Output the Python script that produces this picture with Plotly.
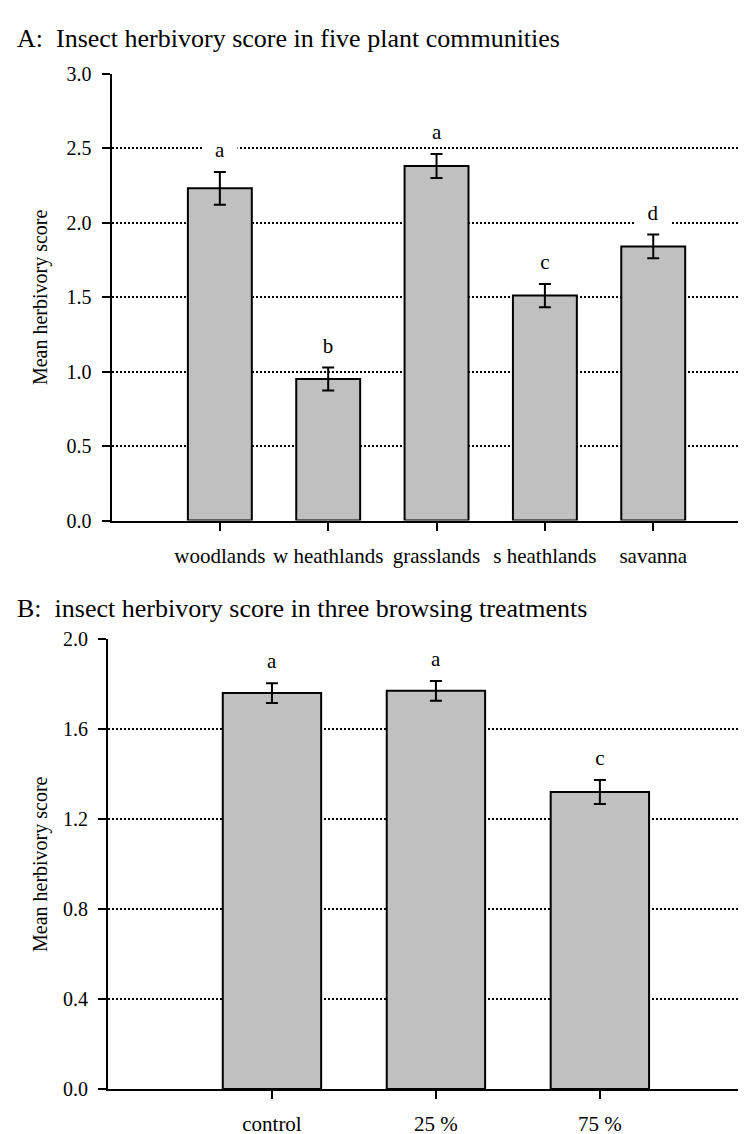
import plotly.graph_objects as go

# ---- data ----
communities = ["woodlands", "w heathlands", "grasslands", "s heathlands", "savanna"]
comm_mean = [2.23, 0.95, 2.38, 1.51, 1.84]
comm_se = [0.11, 0.077, 0.08, 0.078, 0.08]
comm_letters = ["a", "b", "a", "c", "d"]
comm_ticks = [0.0, 0.5, 1.0, 1.5, 2.0, 2.5, 3.0]
comm_ticklabels = ["0.0", "0.5", "1.0", "1.5", "2.0", "2.5", "3.0"]

treatments = ["control", "25 %", "75 %"]
treat_mean = [1.76, 1.77, 1.32]
treat_se = [0.044, 0.044, 0.053]
treat_letters = ["a", "a", "c"]
treat_ticks = [0.0, 0.4, 0.8, 1.2, 1.6, 2.0]
treat_ticklabels = ["0.0", "0.4", "0.8", "1.2", "1.6", "2.0"]

title_a = "A:\u00a0 Insect herbivory score in five plant communities"
title_b = "B:\u00a0 insect herbivory score in three browsing treatments"
ytitle = "Mean herbivory score"

W, H = 746, 1134
FONT = "Liberation Serif"

def py(px):
    return 1 - px / H

fig = go.Figure()

fig.add_trace(go.Bar(
    x=communities, y=comm_mean, width=0.59,
    marker=dict(color="#c0c0c0", line=dict(color="black", width=2)),
    error_y=dict(type="data", array=comm_se, color="black", thickness=2, width=6),
    xaxis="x", yaxis="y", showlegend=False,
))
fig.add_trace(go.Bar(
    x=treatments, y=treat_mean, width=0.6,
    marker=dict(color="#c0c0c0", line=dict(color="black", width=2)),
    error_y=dict(type="data", array=treat_se, color="black", thickness=2, width=6),
    xaxis="x2", yaxis="y2", showlegend=False,
))

line_common = dict(
    showline=True, linecolor="black", linewidth=2,
    ticks="outside", ticklen=8, tickwidth=2, tickcolor="black",
    zeroline=False,
)
xfont = dict(family=FONT, size=21, color="black")
yfont = dict(family=FONT, size=20, color="black")
grid = dict(showgrid=True, gridcolor="black", gridwidth=1.5, griddash="2px,2px")

fig.update_layout(
    width=W, height=H,
    margin=dict(l=0, r=0, t=0, b=0),
    paper_bgcolor="white", plot_bgcolor="white",
    xaxis=dict(domain=[103.5 / W, 1], anchor="y", type="category",
               range=[-1, 4.93], showgrid=False, ticklabelstandoff=7,
               tickfont=xfont, **line_common),
    yaxis=dict(domain=[py(511.5), py(55.7)], anchor="x", range=[0, 3.0],
               tickvals=comm_ticks, ticktext=comm_ticklabels,
               ticklabelstandoff=6, tickfont=yfont, **grid, **line_common),
    xaxis2=dict(domain=[100 / W, 1], anchor="y2", type="category",
                range=[-1, 2.94], showgrid=False, ticklabelstandoff=7,
                tickfont=xfont, **line_common),
    yaxis2=dict(domain=[py(1091.2), py(632.3)], anchor="x2", range=[0, 2.0],
                tickvals=treat_ticks, ticktext=treat_ticklabels,
                ticklabelstandoff=6, tickfont=yfont, **grid, **line_common),
)

annotations = []
letter_font = dict(family=FONT, size=21, color="black")
for c, m, s, l in zip(communities, comm_mean, comm_se, comm_letters):
    annotations.append(dict(x=c, y=m + s, xref="x", yref="y", text=l, showarrow=False,
                            yshift=22, yanchor="middle", bgcolor="white", width=32,
                            font=letter_font))
for c, m, s, l in zip(treatments, treat_mean, treat_se, treat_letters):
    annotations.append(dict(x=c, y=m + s, xref="x2", yref="y2", text=l, showarrow=False,
                            yshift=22, yanchor="middle", bgcolor="white", width=32,
                            font=letter_font))

title_font = dict(family=FONT, size=26, color="black")
annotations.append(dict(x=7 / W, y=py(20), xref="paper", yref="paper", text=title_a,
                        showarrow=False, xanchor="left", yanchor="middle",
                        font=title_font))
annotations.append(dict(x=7 / W, y=py(601), xref="paper", yref="paper", text=title_b,
                        showarrow=False, xanchor="left", yanchor="middle",
                        font=title_font))
ytitle_font = dict(family=FONT, size=20, color="black")
annotations.append(dict(x=32 / W, y=py((511.5 + 55.7) / 2), xref="paper", yref="paper",
                        text=ytitle, textangle=-90, showarrow=False,
                        xanchor="center", yanchor="middle", font=ytitle_font))
annotations.append(dict(x=32 / W, y=py((1091.2 + 632.3) / 2), xref="paper", yref="paper",
                        text=ytitle, textangle=-90, showarrow=False,
                        xanchor="center", yanchor="middle", font=ytitle_font))

fig.update_layout(annotations=annotations)

fig.write_html("out.html")
